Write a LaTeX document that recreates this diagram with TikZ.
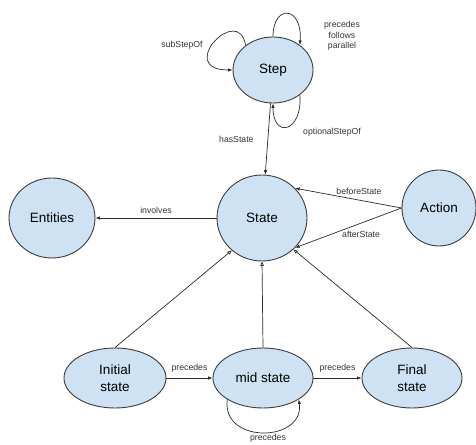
\documentclass[tikz,border=0pt]{standalone}
\usepackage{fontspec}
\setmainfont{Liberation Sans}
\usetikzlibrary{positioning, shapes.geometric, arrows.meta}

\definecolor{nodefill}{HTML}{CFE2F3}
\definecolor{nodeline}{HTML}{3C3C3C}
\definecolor{edgeline}{HTML}{2A2A2A}

\begin{document}
\begin{tikzpicture}[
    x=1pt, y=1pt,
    concept/.style={ellipse, draw=nodeline, fill=nodefill, line width=0.9pt,
      inner sep=0pt, align=center, font=\fontsize{13.5}{17}\selectfont},
    rel/.style={draw=edgeline, line width=0.7pt, -{Latex[length=4.5pt,width=3.5pt]}},
    sub/.style={draw=edgeline, line width=0.7pt, -{Triangle[open,length=4.5pt,width=3.5pt]}},
    lbl/.style={font=\fontsize{8.7}{10.5}\selectfont, text=black!80, inner sep=1pt}]

  \useasboundingbox (0,0) rectangle (476,444);

  % Place the concept nodes
  \node (step) [concept, minimum width=80, minimum height=66] at (273,374) {Step};
  \node (state) [concept, minimum width=90, minimum height=86] at (262,226) {State};
  \node (entities) [concept, minimum width=86, minimum height=80] at (52,226) {Entities};
  \node (action) [concept, minimum width=74, minimum height=76] at (439,236) {Action};

  % Place the state sequence nodes
  \node (initial) [concept, minimum width=102, minimum height=60] at (115,66) {Initial\\state};
  \node (mid) [concept, minimum width=100, minimum height=60] at (263,66) {mid state};
  \node (final) [concept, minimum width=100, minimum height=60] at (412,66) {Final\\state};

  % Self loops on Step
  \draw [rel] (step.138) .. controls +(-7,43) and +(-58,0) .. (step.west);
  \draw [rel] (step.north) .. controls +(0,33) and +(3,39) .. (step.43);
  \draw [rel] (step.-43) .. controls +(3,-37) and +(0,-36) .. (step.south);
  \node (substep) [lbl] at (182,399) {subStepOf};
  \node (order) [lbl, align=center] at (342,408) {precedes\\follows\\parallel};
  \node (optional) [lbl] at (332,312) {optionalStepOf};

  % Edges around State
  \draw [rel] (step) -- node [lbl, left=13pt] {hasState} (state);
  \draw [rel] (state) -- node [lbl, above=3pt] {involves} (entities);
  \draw [rel] (action.west) -- node [lbl, pos=0.4, above=4pt] {beforeState} (state.42);
  \draw [rel] (action.west) -- node [lbl, pos=0.38, below=7pt] {afterState} (state.-42);

  % Sequence states are states
  \draw [sub] (initial.north) -- (state.227);
  \draw [sub] (mid.north) -- (state.south);
  \draw [sub] (final.north) -- (state.-45);

  % Ordering of the sequence
  \draw [rel] (initial) -- node [lbl, above=4pt] {precedes} (mid);
  \draw [rel] (mid) -- node [lbl, above=4pt] {precedes} (final);
  \draw [rel] (mid.211) .. controls +(-6,-45) and +(6,-43) .. (mid.-31);
  \node (loopprec) [lbl] at (268,6) {precedes};
\end{tikzpicture}
\end{document}
